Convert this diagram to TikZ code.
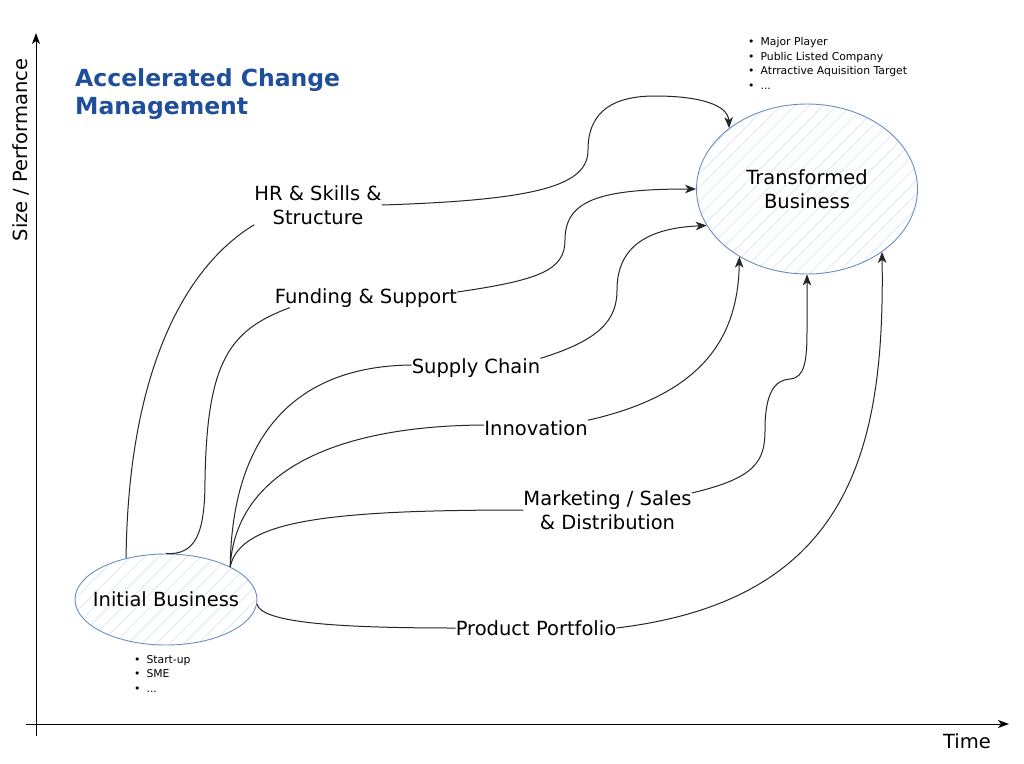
\documentclass[tikz,border=0pt]{standalone}
\usepackage{fontspec}
\setmainfont{DejaVu Sans}
\usetikzlibrary{arrows.meta,patterns.meta,shapes.geometric}
\definecolor{titleblue}{HTML}{1F4E9A}
\definecolor{ellstroke}{HTML}{6C8EBF}
\definecolor{hatch}{HTML}{D0DFF7}
\tikzset{
  biz/.style={ellipse, draw=ellstroke, line width=0.9pt, inner sep=0pt,
    pattern={Lines[angle=45,distance=10.5pt,line width=0.8pt]}, pattern color=hatch},
  lbl/.style={inner sep=0pt, align=center, font=\fontsize{19.5}{24}\selectfont},
  conn/.style={line width=1pt, black!85},
  arr/.style={conn, -{Stealth[length=11pt,width=8.5pt,inset=3pt]}},
  axis/.style={line width=1pt, -{Stealth[length=11pt,width=8pt,inset=3pt]}},
  blist/.style={inner sep=0pt, anchor=west, font=\fontsize{10.8}{14.5}\selectfont}
}
\begin{document}
\begin{tikzpicture}[x=1pt,y=-1pt]
\useasboundingbox[fill=white] (0,0) rectangle (1024,763);

% axes
\coordinate (yb) at (36,736);
\coordinate (yt) at (36,33);
\coordinate (xl) at (26,724);
\coordinate (xr) at (1009,724);
\draw[axis] (yb) -- (yt);
\draw[axis] (xl) -- (xr);
\node[lbl, anchor=east] (time) at (991,741) {Time};
\node[lbl, rotate=90] (size) at (21,150) {Size / Performance};

% title
\node[inner sep=0pt, anchor=west, align=left, text=titleblue,
  font=\fontsize{23.5}{28}\bfseries\selectfont] (title) at (75,94)
  {Accelerated Change\\Management};

% ellipses
\node[biz, minimum width=221pt, minimum height=170pt,
  label={[lbl]center:Transformed\\Business}] (tb) at (807,189) {};
\node[biz, minimum width=182pt, minimum height=91pt,
  label={[lbl]center:Initial Business}] (ib) at (166,599.5) {};

% bullet lists
\node[blist] (tblist) at (748,64.5) {\begin{tabular}{@{}l@{\hspace{6pt}}l@{}}
•&Major Player\\ •&Public Listed Company\\ •&Atrractive Aquisition Target\\ •&...\end{tabular}};
\node[blist] (iblist) at (134,675) {\begin{tabular}{@{}l@{\hspace{6pt}}l@{}}
•&Start-up\\ •&SME\\ •&...\end{tabular}};

% labels
\node[lbl] (hr) at (318,205) {HR \& Skills \&\\Structure};
\node[lbl] (fund) at (366,298) {Funding \& Support};
\node[lbl] (supply) at (476,368) {Supply Chain};
\node[lbl] (innov) at (536,428) {Innovation};
\node[lbl] (mkt) at (607.5,510) {Marketing / Sales\\\& Distribution};
\node[lbl] (prod) at (536,628) {Product Portfolio};

% connectors: initial business -> labels
\draw[conn] (ib.134) .. controls (128,380) and (180,270) .. (hr.south west);
\draw[conn] (ib.north) .. controls (195,555) and (205,535) .. (205,480)
  .. controls (207,360) and (230,330) .. ([xshift=15pt]fund.south west);
\draw[conn] (ib.27) .. controls (232,430) and (300,366) .. ([yshift=3pt]supply.west);
\draw[conn] (ib.27) .. controls (235,480) and (320,426) .. ([yshift=3pt]innov.west);
\draw[conn] (ib.27) .. controls (240,520) and (330,510) .. (mkt.west);
\draw[conn] (ib.-3) .. controls (262,622) and (330,628) .. (prod.west);

% connectors: labels -> transformed business
\draw[arr] (hr.east) .. controls (540,200) and (588,185) .. (588,150)
  .. controls (588,110) and (615,96) .. (655,96)
  .. controls (700,96) and (728,105) .. (tb.142);
\draw[arr] ([yshift=6pt]fund.east) .. controls (540,280) and (565,270) .. (565,240)
  .. controls (565,200) and (600,189) .. (tb.west);
\draw[arr] (supply.north east) .. controls (600,340) and (617,320) .. (617,290)
  .. controls (617,245) and (650,228) .. (tb.200);
\draw[arr] (innov.north east) .. controls (700,395) and (738,340) .. (tb.225);
\draw[arr] ([yshift=17pt]mkt.east) .. controls (755,478) and (765,462) .. (765,430)
  .. controls (765,392) and (775,380) .. (790,379)
  .. controls (805,378) and (807,360) .. (807,330) -- (tb.south);
\draw[arr] (prod.east) .. controls (850,600) and (885,450) .. (tb.-40);
\end{tikzpicture}
\end{document}
